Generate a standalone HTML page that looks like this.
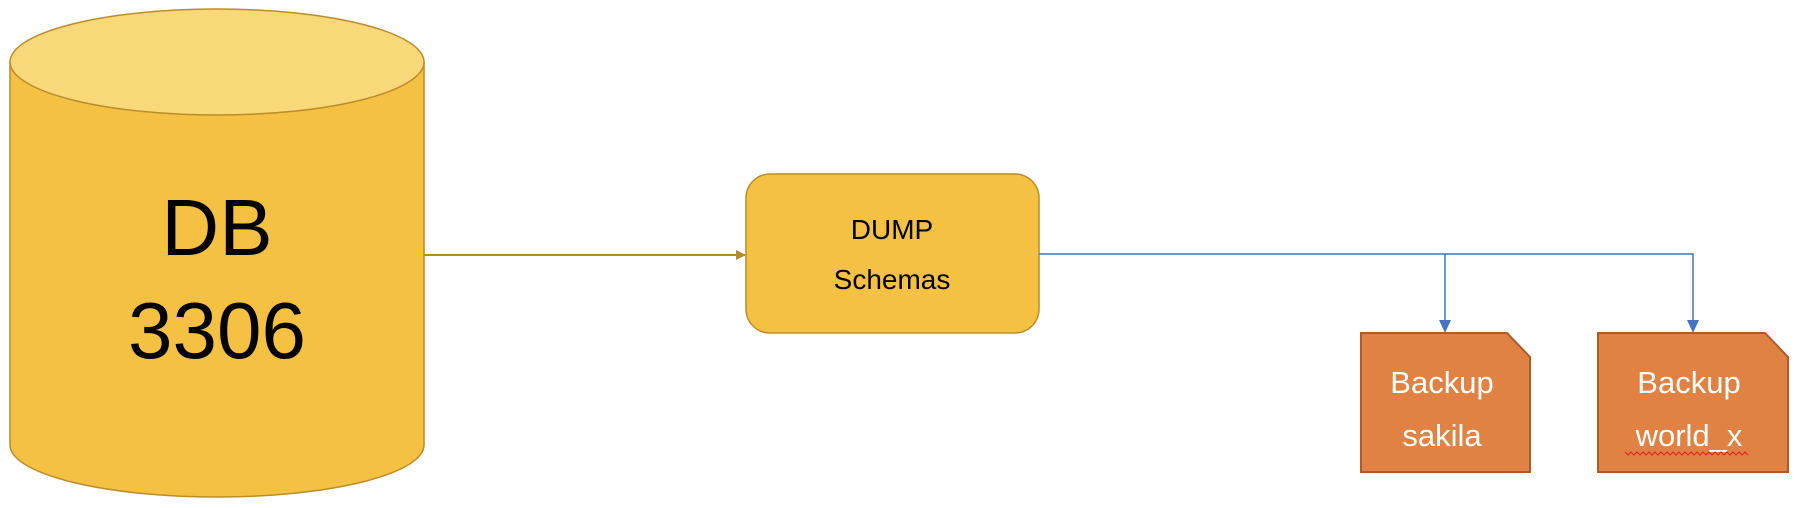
<!DOCTYPE html>
<html><head><meta charset="utf-8"><style>
html,body{margin:0;padding:0;background:#fff;width:1798px;height:508px;overflow:hidden}
svg{display:block}
text{font-family:"Liberation Sans","DejaVu Sans",sans-serif}
</style></head><body>
<svg width="1798" height="508" viewBox="0 0 1798 508">
<defs>
<marker id="ao" markerWidth="10" markerHeight="10" refX="9" refY="5" orient="auto" markerUnits="userSpaceOnUse"><path d="M0,0 L10,5 L0,10 z" fill="#B8892C"/></marker>
<marker id="ab" markerWidth="10" markerHeight="12" refX="5" refY="11" orient="auto" markerUnits="userSpaceOnUse" viewBox="0 0 10 12"><path d="M0,0 L10,0 L5,12 z" fill="#4472C4" transform="rotate(-90 5 6)"/></marker>
</defs>
<!-- cylinder -->
<path d="M10,62 L10,445 A207,52 0 0 0 424,445 L424,62 Z" fill="#F5C142" stroke="#BC8C2A" stroke-width="1.5"/>
<ellipse cx="217" cy="62" rx="207" ry="53" fill="#F8D878" stroke="#BC8C2A" stroke-width="1.5"/>
<text x="217" y="255" font-size="80" text-anchor="middle" fill="#000">DB</text>
<text x="217" y="358" font-size="80" text-anchor="middle" fill="#000">3306</text>
<!-- arrow -->
<line x1="424" y1="255" x2="745" y2="255" stroke="#B8892C" stroke-width="2" marker-end="url(#ao)"/>
<!-- dump box -->
<rect x="746" y="174" width="293" height="159" rx="24" fill="#F5C142" stroke="#BC8C2A" stroke-width="1.5"/>
<text x="892" y="239" font-size="28" text-anchor="middle" fill="#000">DUMP</text>
<text x="892" y="289" font-size="28" text-anchor="middle" fill="#000">Schemas</text>
<!-- blue connectors -->
<polyline points="1039,254 1693,254 1693,331" fill="none" stroke="#4472C4" stroke-width="1.5"/>
<line x1="1445" y1="254" x2="1445" y2="331" stroke="#4472C4" stroke-width="1.5"/>
<path d="M1439,320 L1451,320 L1445,333 Z" fill="#4472C4"/>
<path d="M1687,320 L1699,320 L1693,333 Z" fill="#4472C4"/>
<!-- docs -->
<path d="M1361,333 L1507,333 L1530,357 L1530,472 L1361,472 Z" fill="#E08244" stroke="#AE5A2B" stroke-width="2"/>
<path d="M1598,333 L1765,333 L1788,357 L1788,472 L1598,472 Z" fill="#E08244" stroke="#AE5A2B" stroke-width="2"/>
<text x="1442" y="393" font-size="31" text-anchor="middle" fill="#fff">Backup</text>
<text x="1442" y="446" font-size="31" text-anchor="middle" fill="#fff">sakila</text>
<text x="1689" y="393" font-size="31" text-anchor="middle" fill="#fff">Backup</text>
<text x="1689" y="446" font-size="31" text-anchor="middle" fill="#fff">world_x</text>
<path d="M1625,452 l3,3 l3,-3 l3,3 l3,-3 l3,3 l3,-3 l3,3 l3,-3 l3,3 l3,-3 l3,3 l3,-3 l3,3 l3,-3 l3,3 l3,-3 l3,3 l3,-3 l3,3 l3,-3 l3,3 l3,-3 l3,3 l3,-3 l3,3 l3,-3 l3,3 l3,-3 l3,3 l3,-3 l3,3 l3,-3 l3,3 l3,-3 l3,3 l3,-3 l3,3 l3,-3 l3,3 l3,-3 l3,3" fill="none" stroke="#E02020" stroke-width="1"/>
</svg>
</body></html>
